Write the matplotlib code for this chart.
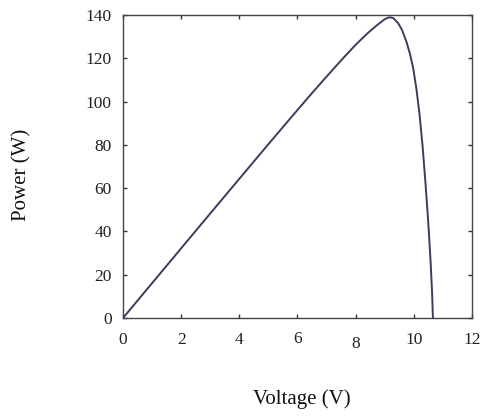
import matplotlib
matplotlib.use("Agg")
import matplotlib.pyplot as plt
from matplotlib.transforms import ScaledTranslation

voltage = [0, 1, 2, 3, 4, 5, 6, 6.5, 7, 7.5, 8, 8.4, 8.7, 8.9, 9.0, 9.1, 9.2, 9.3, 9.46, 9.6,
           9.75, 9.87, 9.98, 10.09, 10.2, 10.3, 10.4, 10.5, 10.58, 10.63, 10.66]
power = [0, 16.1, 32.2, 48.3, 64.3, 80.3, 96.1, 103.9, 111.5, 119.0, 126.2, 131.4, 134.9,
         137.0, 138.0, 138.7, 138.9, 138.5, 136.3, 133.0, 127.6, 122.0, 115.5, 106.0, 94.0,
         80.0, 63.0, 44.0, 26.0, 12.0, 0]
xticks = [0, 2, 4, 6, 8, 10, 12]
yticks = [0, 20, 40, 60, 80, 100, 120, 140]

plt.rcParams['font.family'] = ['Liberation Serif', 'DejaVu Serif']

fig = plt.figure(figsize=(4.83, 4.16), dpi=100)
ax = fig.add_axes([0.2547, 0.2356, 0.977 - 0.2547, 0.964 - 0.2356])
ax.plot(voltage, power, color='#3c3c5c', lw=1.4)
ax.set_xlim(0, 12)
ax.set_ylim(0, 140)
ax.set_xticks(xticks)
ax.set_yticks(yticks)
ax.tick_params(direction='in', length=3, width=1, color='#333333', top=True, right=True,
               labelsize=12.5, labelcolor='#222222')
ax.tick_params(axis='x', pad=10)
ax.tick_params(axis='y', pad=8)
for s in ax.spines.values():
    s.set_color('#444444')
    s.set_linewidth(1.0)

fig.text(0.046, 0.579, 'Power (W)', rotation=90, ha='center', va='center', fontsize=15, color='#111111')
fig.text(0.625, 0.041, 'Voltage (V)', ha='center', va='center', fontsize=15, color='#111111')

fig.canvas.draw()
for lbl in ax.get_xticklabels():
    if lbl.get_text() == '8':
        lbl.set_transform(lbl.get_transform() + ScaledTranslation(0, -4/100, fig.dpi_scale_trans))
    if lbl.get_text() == '6':
        lbl.set_transform(lbl.get_transform() + ScaledTranslation(0, 1/100, fig.dpi_scale_trans))

fig.savefig('out.png', dpi=100)
